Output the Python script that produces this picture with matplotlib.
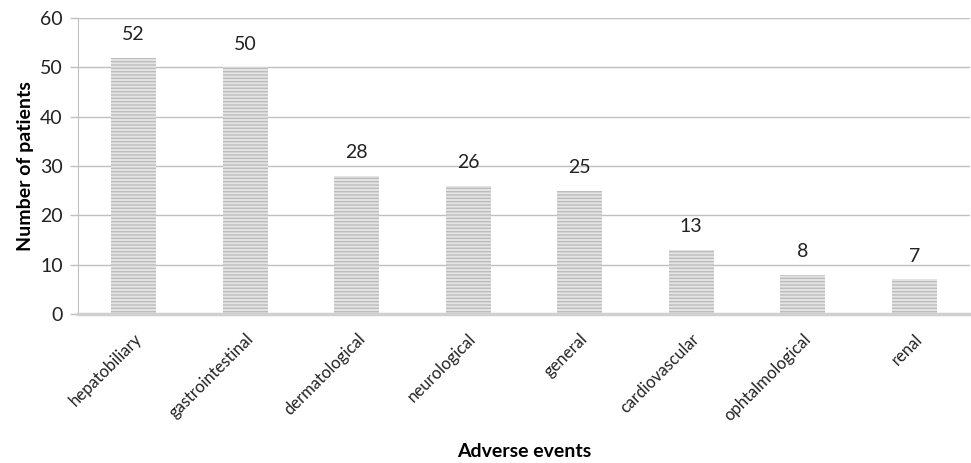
import matplotlib
matplotlib.use("Agg")
import matplotlib.pyplot as plt
import matplotlib.transforms as mtransforms

categories = ["hepatobiliary", "gastrointestinal", "dermatological", "neurological",
              "general", "cardiovascular", "ophtalmological", "renal"]
values = [52, 50, 28, 26, 25, 13, 8, 7]
yticks = [0, 10, 20, 30, 40, 50, 60]

plt.rcParams['font.family'] = ['Lato', 'DejaVu Sans']
plt.rcParams['hatch.linewidth'] = 1.0

fig = plt.figure(figsize=(9.71, 4.63), dpi=100)
ax = fig.add_axes([0.0803, 0.3218, 0.9187, 0.6392])

x = range(len(categories))
bars = ax.bar(x, values, width=0.4, color='#e4e4e4', edgecolor='#bcbcbc', linewidth=0,
              hatch='-----', zorder=3)
for xi, v in zip(x, values):
    ax.text(xi, v + 3.0, str(v), ha='center', va='bottom', fontsize=14, color='#222222')

ax.set_xlim(-0.5, len(categories) - 0.5)
ax.set_ylim(0, 60)
ax.set_yticks(yticks)
ax.set_yticklabels([str(t) for t in yticks], fontsize=14, color='#222222')
ax.set_xticks(list(x))
ax.set_xticklabels(categories, rotation=45, ha='right', rotation_mode='anchor', fontsize=12, color='#222222')
offset = mtransforms.ScaledTranslation(14 / 100, 0, fig.dpi_scale_trans)
for lbl in ax.get_xticklabels():
    lbl.set_transform(lbl.get_transform() + offset)
ax.tick_params(axis='x', length=0, pad=12)
ax.tick_params(axis='y', length=6, color='#bfbfbf', width=1, pad=5)
ax.grid(axis='y', color='#c0c0c0', linewidth=1, zorder=0)
for s in ['top', 'right']:
    ax.spines[s].set_visible(False)
ax.spines['left'].set_color('#bfbfbf')
ax.spines['bottom'].set_color('#d0d0d0')
ax.spines['bottom'].set_linewidth(2.5)
ax.spines['bottom'].set_zorder(4)

ax.set_ylabel('Number of patients', fontsize=14, fontweight='bold', labelpad=4)
fig.text(0.5 + 0.04, 0.025, 'Adverse events', ha='center', va='center', fontsize=14, fontweight='bold')

fig.savefig('out.png', dpi=100)
